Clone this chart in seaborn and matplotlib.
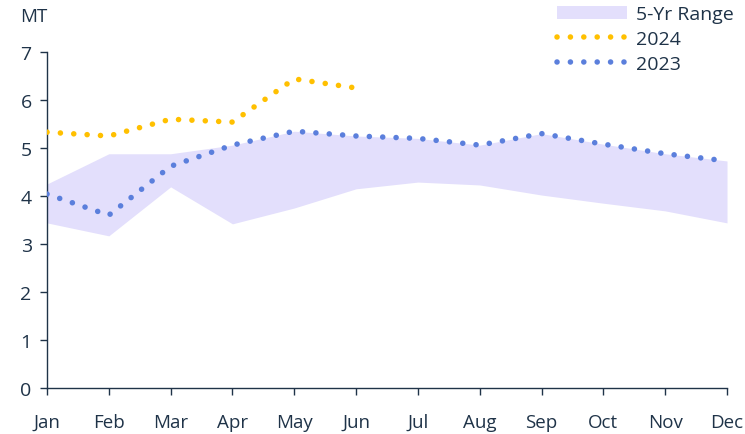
import matplotlib
matplotlib.use("Agg")
import matplotlib.pyplot as plt
import numpy as np
import pandas as pd
import seaborn as sns
from matplotlib.lines import Line2D
from matplotlib.patches import Patch

months = ["Jan", "Feb", "Mar", "Apr", "May", "Jun",
          "Jul", "Aug", "Sep", "Oct", "Nov", "Dec"]
range_low = [3.44, 3.17, 4.19, 3.42, 3.75, 4.15, 4.29, 4.23, 4.02, 3.85, 3.69, 3.44]
range_high = [4.25, 4.88, 4.88, 5.06, 5.35, 5.25, 5.20, 5.06, 5.30, 5.08, 4.88, 4.73]
y2024 = [5.33, 5.25, 5.60, 5.54, 6.44, 6.25]
y2023 = [4.04, 3.60, 4.62, 5.06, 5.35, 5.25, 5.20, 5.06, 5.30, 5.08, 4.88, 4.73]

TEXT = "#1f3348"
C_RANGE = "#e3dffc"
C_2024 = "#ffc000"
C_2023 = "#5b7fdc"

sns.set_style("ticks")
plt.rcParams["font.family"] = ["Open Sans", "DejaVu Sans"]

fig = plt.figure(figsize=(7.45, 4.35), dpi=100)
ax = fig.add_axes([47 / 745, 1 - 389 / 435, 680 / 745, 336 / 435])

x = np.arange(len(months))
ax.fill_between(x, range_low, range_high, color=C_RANGE, linewidth=0, zorder=1)

df24 = pd.DataFrame({"m": x[:len(y2024)], "v": y2024})
df23 = pd.DataFrame({"m": x, "v": y2023})
lw = 4.0
dots = (0, (0.01, 2.4))
sns.lineplot(data=df24, x="m", y="v", ax=ax, color=C_2024, linewidth=lw,
             linestyle=dots, zorder=3)
sns.lineplot(data=df23, x="m", y="v", ax=ax, color=C_2023, linewidth=lw,
             linestyle=dots, zorder=3)
for ln in ax.get_lines():
    ln.set_dash_capstyle("round")

ax.set_xlim(0, 11)
ax.set_ylim(0, 7)
ax.set_xticks(x)
ax.set_xticklabels(months)
ax.set_yticks(range(8))
ax.set_xlabel("")
ax.set_ylabel("")
for s in ["top", "right"]:
    ax.spines[s].set_visible(False)
for s in ["left", "bottom"]:
    ax.spines[s].set_color(TEXT)
    ax.spines[s].set_linewidth(1.0)
ax.tick_params(axis="both", colors=TEXT, length=5, width=1.0)
ax.tick_params(axis="y", labelsize=14, pad=6)
ax.tick_params(axis="x", labelsize=13.5, pad=13)

fig.text(20 / 745, 1 - 17 / 435, "MT", fontsize=13.5, color=TEXT, va="center", ha="left")

handles = [
    Patch(facecolor=C_RANGE, edgecolor="none", label="5-Yr Range"),
    Line2D([0], [0], color=C_2024, linewidth=lw, linestyle=dots,
           dash_capstyle="round", label="2024"),
    Line2D([0], [0], color=C_2023, linewidth=lw, linestyle=dots,
           dash_capstyle="round", label="2023"),
]
leg = fig.legend(handles=handles, loc="upper left", bbox_to_anchor=(549 / 745, 1.003),
                 frameon=False, fontsize=14, handlelength=3.6, handletextpad=0.45,
                 labelspacing=0.35, borderaxespad=0)
for t in leg.get_texts():
    t.set_color(TEXT)

fig.savefig("out.png", dpi=100)
